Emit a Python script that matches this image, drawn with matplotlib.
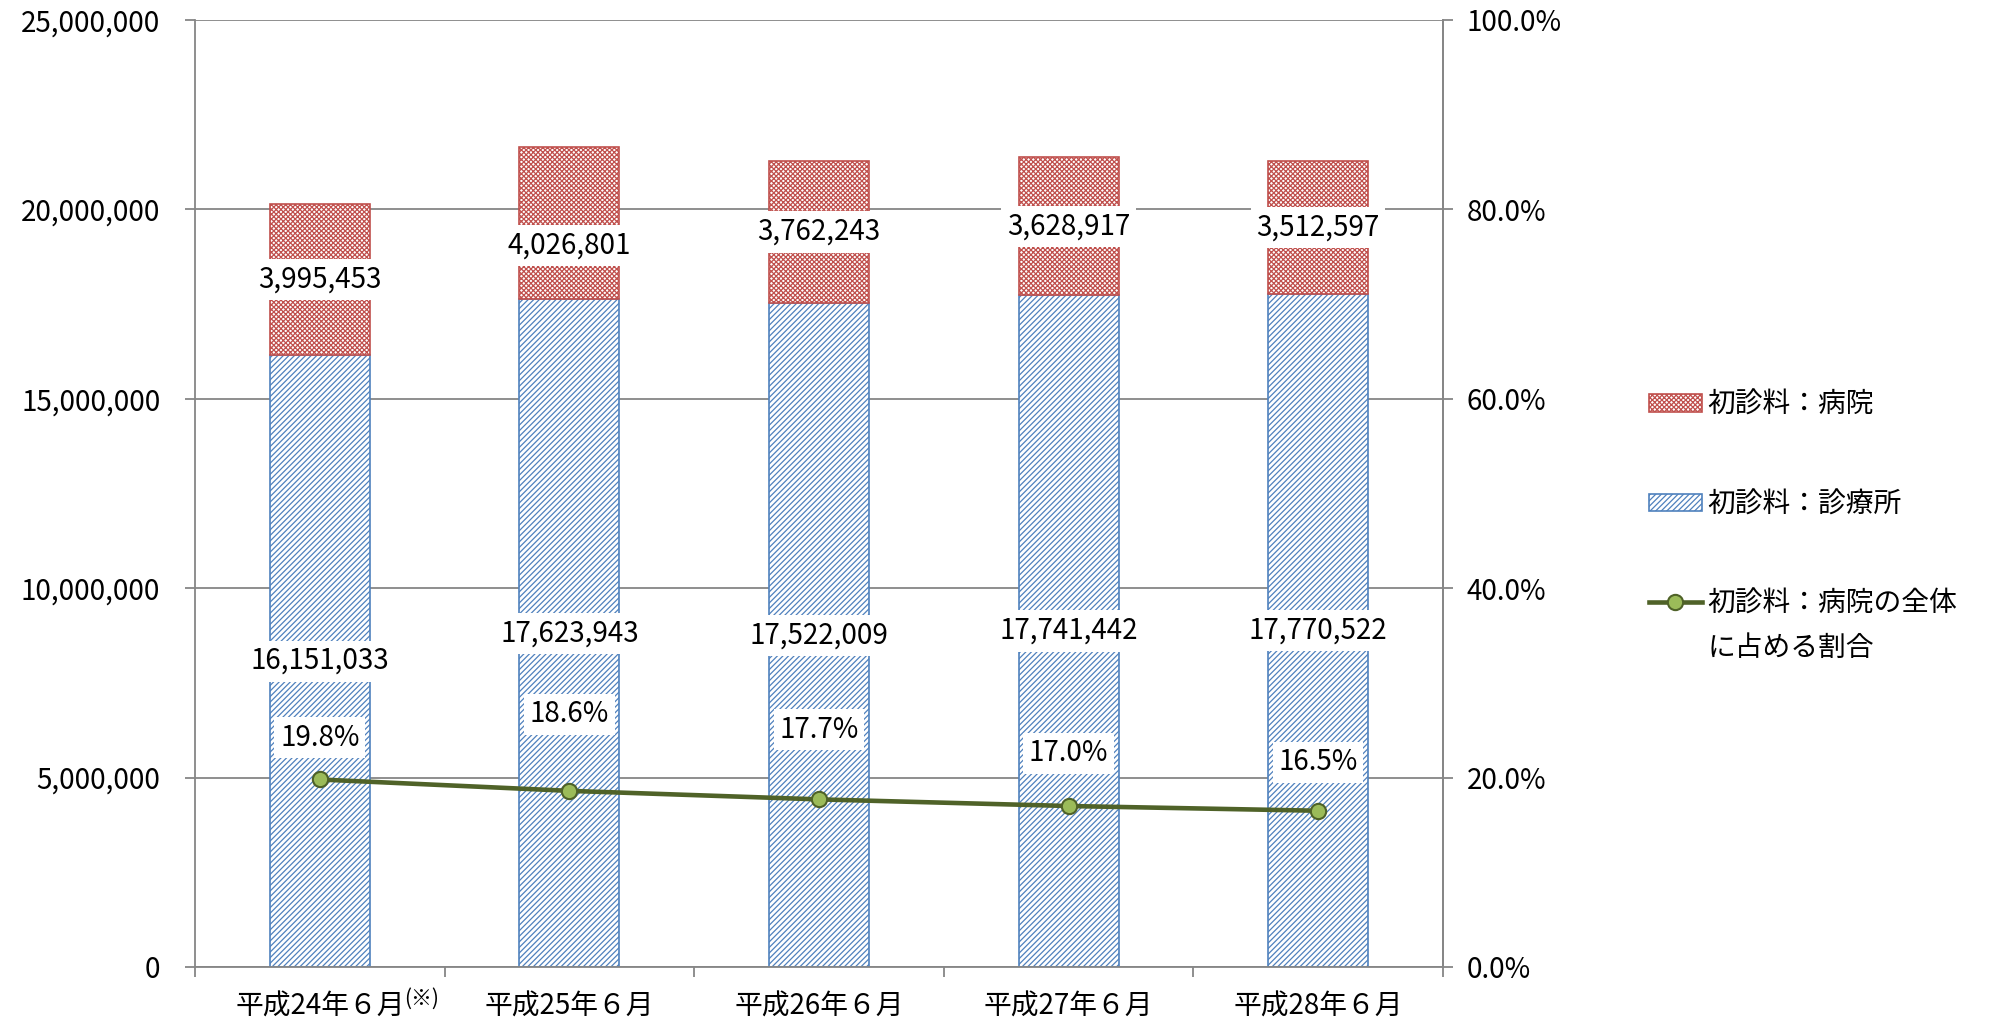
import numpy as np
import matplotlib
matplotlib.use("Agg")
import matplotlib.pyplot as plt
from matplotlib.ticker import FuncFormatter, FixedLocator

plt.rcParams['font.family'] = ['Noto Sans CJK JP', 'DejaVu Sans']
plt.rcParams['hatch.linewidth'] = 0.9

# 初診料の算定回数（病院・診療所）と病院の割合
months = ['平成24年６月', '平成25年６月', '平成26年６月', '平成27年６月', '平成28年６月']
clinic = [16151033, 17623943, 17522009, 17741442, 17770522]
hospital = [3995453, 4026801, 3762243, 3628917, 3512597]
ratio = [19.8, 18.6, 17.7, 17.0, 16.5]

# ラベルの位置ずらし（ポイント）
hosp_dy = [0, -16, 0, 0, 0]
ratio_dy = [30, 55, 50, 38, 35]

GRID = '#868686'
RED = '#C0504D'
BLUE = '#4F81BD'
FS = 20

fig = plt.figure(figsize=(19.95, 10.25), dpi=100)
ax = fig.add_axes([195 / 1995, 1 - 967 / 1025, 1248 / 1995, 947 / 1025])
x = np.arange(len(months))
w = 0.4

b1 = ax.bar(x, clinic, w, color='white', edgecolor=BLUE, hatch='//////',
            linewidth=1.2, zorder=2)
b2 = ax.bar(x, hospital, w, bottom=clinic, color='white', edgecolor=RED,
            hatch='xxxxxxx', linewidth=1.2, zorder=2)

box = dict(boxstyle='square,pad=0.2', fc='white', ec='none')
for i in range(len(x)):
    ax.annotate(f'{clinic[i]:,}', (x[i], clinic[i] / 2), ha='center', va='center',
                fontsize=FS, bbox=box, zorder=3)
    ax.annotate(f'{hospital[i]:,}', (x[i], clinic[i] + hospital[i] / 2),
                xytext=(0, hosp_dy[i]), textcoords='offset points', ha='center',
                va='center', fontsize=FS, bbox=box, zorder=3)

ax.set_xlim(-0.5, 4.5)
ax.set_ylim(0, 25000000)
ax.set_yticks(np.arange(0, 25000001, 5000000))
ax.yaxis.set_major_formatter(FuncFormatter(lambda v, p: f'{int(v):,}'))
ax.grid(axis='y', color=GRID, linewidth=1.3, zorder=0)
ax.set_axisbelow(True)
ax.set_xticks(x)
ax.set_xticklabels(months, fontsize=FS)
ax.xaxis.set_minor_locator(FixedLocator(np.arange(-0.5, 5, 1)))
ax.tick_params(axis='x', which='major', length=0, pad=18)
ax.tick_params(axis='x', which='minor', length=7, color=GRID, width=1.3)
ax.tick_params(axis='y', length=7, color=GRID, width=1.3, labelsize=FS, pad=18)
for s in ['left', 'right', 'bottom']:
    ax.spines[s].set_color(GRID)
    ax.spines[s].set_linewidth(1.3)
ax.spines['top'].set_visible(False)

ax2 = ax.twinx()
ln, = ax2.plot(x, ratio, color='#4F6228', linewidth=3.3, marker='o',
               markersize=11, markerfacecolor='#9BBB59', markeredgecolor='#4F6228',
               markeredgewidth=1.5, zorder=4)
for i in range(len(x)):
    ax2.annotate(f'{ratio[i]:.1f}%', (x[i], ratio[i]), xytext=(0, ratio_dy[i]),
                 textcoords='offset points', ha='center', va='center', fontsize=FS,
                 bbox=box)
ax2.set_ylim(0, 100)
ax2.set_yticks(np.arange(0, 101, 20))
ax2.yaxis.set_major_formatter(FuncFormatter(lambda v, p: f'{v:.1f}%'))
ax2.tick_params(axis='y', length=7, color=GRID, width=1.3, labelsize=FS, pad=10)
for s in ['top', 'left', 'bottom']:
    ax2.spines[s].set_visible(False)
ax2.spines['right'].set_color(GRID)
ax2.spines['right'].set_linewidth(1.3)

leg = fig.legend([b2, b1, ln], ['初診料：病院', '初診料：診療所', '初診料：病院の全体'],
                 loc='upper left', bbox_to_anchor=(1635 / 1995, 1 - 376 / 1025),
                 frameon=False, fontsize=FS, handlelength=1.9, handleheight=0.6,
                 handletextpad=0.2, labelspacing=2.5, borderpad=0)

fig.canvas.draw()
W, H = fig.bbox.width, fig.bbox.height

# 凡例3行目の続き
t3 = leg.get_texts()[2].get_window_extent()
fig.text(t3.x0 / W, (t3.y0 - 14) / H, 'に占める割合', fontsize=FS, ha='left', va='top')

# 平成24年の注記（※）を上付きで
bb = ax.get_xticklabels()[0].get_window_extent()
fig.text(bb.x1 / W, (bb.y1 + 4) / H, '(※)', fontsize=15, ha='left', va='top')

fig.savefig('out.png', dpi=100)
